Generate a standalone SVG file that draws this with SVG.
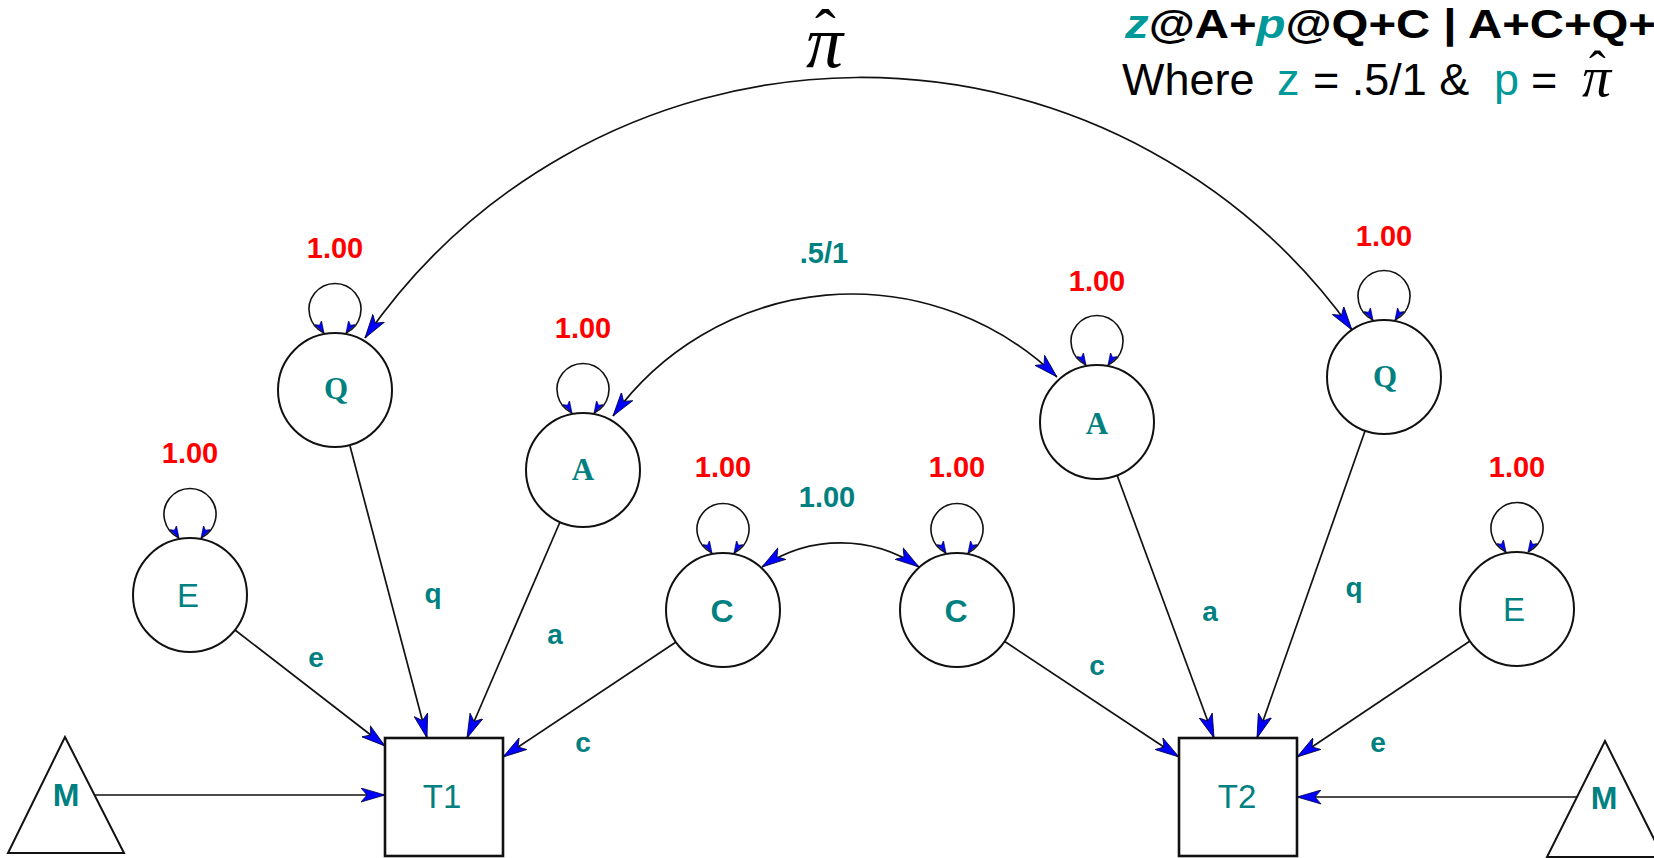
<svg xmlns="http://www.w3.org/2000/svg" width="1654" height="858" viewBox="0 0 1654 858">
<style>
.ln{fill:none;stroke:#111;stroke-width:1.7}
.nd{fill:#fff;stroke:#111;stroke-width:2}
.bx{fill:#fff;stroke:#111;stroke-width:2.6}
.var{font-family:"Liberation Sans",Arial,sans-serif;font-weight:bold;font-size:29px;fill:#ff0000;text-anchor:middle}
.cov{font-family:"Liberation Sans",Arial,sans-serif;font-weight:bold;font-size:29px;fill:#008080;text-anchor:middle}
.pl{font-family:"Liberation Sans",Arial,sans-serif;font-weight:bold;font-size:28px;fill:#008080;text-anchor:middle}
.ls{font-family:"Liberation Serif","Times New Roman",serif;font-weight:bold;font-size:31px;fill:#008080;text-anchor:middle}
.lb{font-family:"Liberation Sans",Arial,sans-serif;font-size:33px;fill:#008080;text-anchor:middle}
.lbb{font-family:"Liberation Sans",Arial,sans-serif;font-weight:bold;font-size:32px;fill:#008080;text-anchor:middle}
.loop{fill:none;stroke:#111;stroke-width:1.6;marker-start:url(#lpL);marker-end:url(#lpR)}
.ar{marker-end:url(#arr)}
.ar2{marker-start:url(#arr);marker-end:url(#arr)}
.tt{font-family:"Liberation Sans",Arial,sans-serif;fill:#000}
.tl{fill:#009999}
.it{font-style:italic}
.pi{font-family:"Liberation Serif","Times New Roman",serif;font-style:italic;fill:#000}
.hat{font-style:normal}
</style>
<defs>
<marker id="arr" viewBox="0 0 24 15" refX="24" refY="7.5" markerWidth="24" markerHeight="15" markerUnits="userSpaceOnUse" orient="auto-start-reverse">
<path d="M0,0.5 L24,7.5 L0,14.5 L6,7.5 Z" fill="#0000ff" stroke="#000040" stroke-width="0.8"/>
</marker>
<marker id="lpL" viewBox="0 0 12 9" refX="12" refY="4.5" markerWidth="12" markerHeight="9" markerUnits="userSpaceOnUse" orient="60">
<path d="M0,0.5 L12,4.5 L0,8.5 L3,4.5 Z" fill="#0000ff" stroke="#000040" stroke-width="0.6"/>
</marker>
<marker id="lpR" viewBox="0 0 12 9" refX="12" refY="4.5" markerWidth="12" markerHeight="9" markerUnits="userSpaceOnUse" orient="120">
<path d="M0,0.5 L12,4.5 L0,8.5 L3,4.5 Z" fill="#0000ff" stroke="#000040" stroke-width="0.6"/>
</marker>
</defs>
<rect width="1654" height="858" fill="#fff"/>

<g id="title">
<text class="tt" x="1125" y="38" font-size="41" font-weight="bold" textLength="531" lengthAdjust="spacingAndGlyphs"><tspan class="tl it">z</tspan>@A+<tspan class="tl it">p</tspan>@Q+C | A+C+Q+</text>
<text class="tt" y="95" font-size="45"><tspan x="1122">Where</tspan><tspan x="1277" class="tl">z</tspan><tspan x="1313">= .5/1 &amp;</tspan><tspan x="1494" class="tl">p</tspan><tspan x="1531">=</tspan></text>
<text class="pi" x="1582" y="96" font-size="58">π<tspan class="hat" x="1589" y="86" font-size="50">ˆ</tspan></text>
</g>

<g id="connectors">
<path class="ln ar2" d="M365,338 A603,603 0 0 1 1352,330"/>
<path class="ln ar2" d="M613,416 A295,295 0 0 1 1057,377"/>
<path class="ln ar2" d="M762,567 A140,140 0 0 1 919,567"/>
<line class="ln ar" x1="95" y1="795" x2="385" y2="795"/>
<line class="ln ar" x1="235" y1="630" x2="385" y2="746"/>
<line class="ln ar" x1="350" y1="446" x2="427" y2="738"/>
<line class="ln ar" x1="560" y1="522" x2="467" y2="738"/>
<line class="ln ar" x1="676" y1="642" x2="503" y2="757"/>
<line class="ln ar" x1="1004" y1="641" x2="1179" y2="757"/>
<line class="ln ar" x1="1117" y1="475" x2="1214" y2="738"/>
<line class="ln ar" x1="1365" y1="431" x2="1257" y2="738"/>
<line class="ln ar" x1="1470" y1="641" x2="1297" y2="757"/>
<line class="ln ar" x1="1577" y1="797" x2="1297" y2="797"/>
<text class="pi" x="806" y="67" font-size="74">π<tspan class="hat" x="815" y="52" font-size="62">ˆ</tspan></text>
<text class="cov" x="824" y="263">.5/1</text>
<text class="cov" x="827" y="507">1.00</text>
<text class="pl" x="433" y="603">q</text>
<text class="pl" x="555" y="644">a</text>
<text class="pl" x="316" y="667">e</text>
<text class="pl" x="583" y="752">c</text>
<text class="pl" x="1210" y="621">a</text>
<text class="pl" x="1354" y="597">q</text>
<text class="pl" x="1097" y="675">c</text>
<text class="pl" x="1378" y="752">e</text>
</g>

<g id="Q1">
<circle class="nd" cx="335" cy="390" r="57"/>
<path class="loop" d="M324,333 A26,26 0 1 1 346,333"/>
<text class="var" x="335" y="258">1.00</text>
<text class="ls" x="336" y="399">Q</text>
</g>
<g id="A1">
<circle class="nd" cx="583" cy="470" r="57"/>
<path class="loop" d="M572,413 A26,26 0 1 1 594,413"/>
<text class="var" x="583" y="338">1.00</text>
<text class="ls" x="583" y="480">A</text>
</g>
<g id="E1">
<circle class="nd" cx="190" cy="595" r="57"/>
<path class="loop" d="M179,538 A26,26 0 1 1 201,538"/>
<text class="var" x="190" y="463">1.00</text>
<text class="lb" x="188" y="607">E</text>
</g>
<g id="C1">
<circle class="nd" cx="723" cy="610" r="57"/>
<path class="loop" d="M712,553 A26,26 0 1 1 734,553"/>
<text class="var" x="723" y="477">1.00</text>
<text class="lbb" x="722" y="622">C</text>
</g>
<g id="C2">
<circle class="nd" cx="957" cy="610" r="57"/>
<path class="loop" d="M946,553 A26,26 0 1 1 968,553"/>
<text class="var" x="957" y="477">1.00</text>
<text class="lbb" x="956" y="622">C</text>
</g>
<g id="A2">
<circle class="nd" cx="1097" cy="422" r="57"/>
<path class="loop" d="M1086,365 A26,26 0 1 1 1108,365"/>
<text class="var" x="1097" y="291">1.00</text>
<text class="ls" x="1097" y="434">A</text>
</g>
<g id="Q2">
<circle class="nd" cx="1384" cy="377" r="57"/>
<path class="loop" d="M1373,320 A26,26 0 1 1 1395,320"/>
<text class="var" x="1384" y="246">1.00</text>
<text class="ls" x="1385" y="387">Q</text>
</g>
<g id="E2">
<circle class="nd" cx="1517" cy="609" r="57"/>
<path class="loop" d="M1506,552 A26,26 0 1 1 1528,552"/>
<text class="var" x="1517" y="477">1.00</text>
<text class="lb" x="1514" y="621">E</text>
</g>
<g id="T1">
<rect class="bx" x="385" y="738" width="118" height="118"/>
<text class="lb" x="442" y="808">T1</text>
</g>
<g id="T2">
<rect class="bx" x="1179" y="738" width="118" height="118"/>
<text class="lb" x="1237" y="808">T2</text>
</g>
<g id="M1">
<polygon class="nd" points="65,737 8,853 124,853"/>
<text class="lbb" x="66" y="806">M</text>
</g>
<g id="M2">
<polygon class="nd" points="1605,741 1547,857 1663,857"/>
<text class="lbb" x="1604" y="809">M</text>
</g>
</svg>
